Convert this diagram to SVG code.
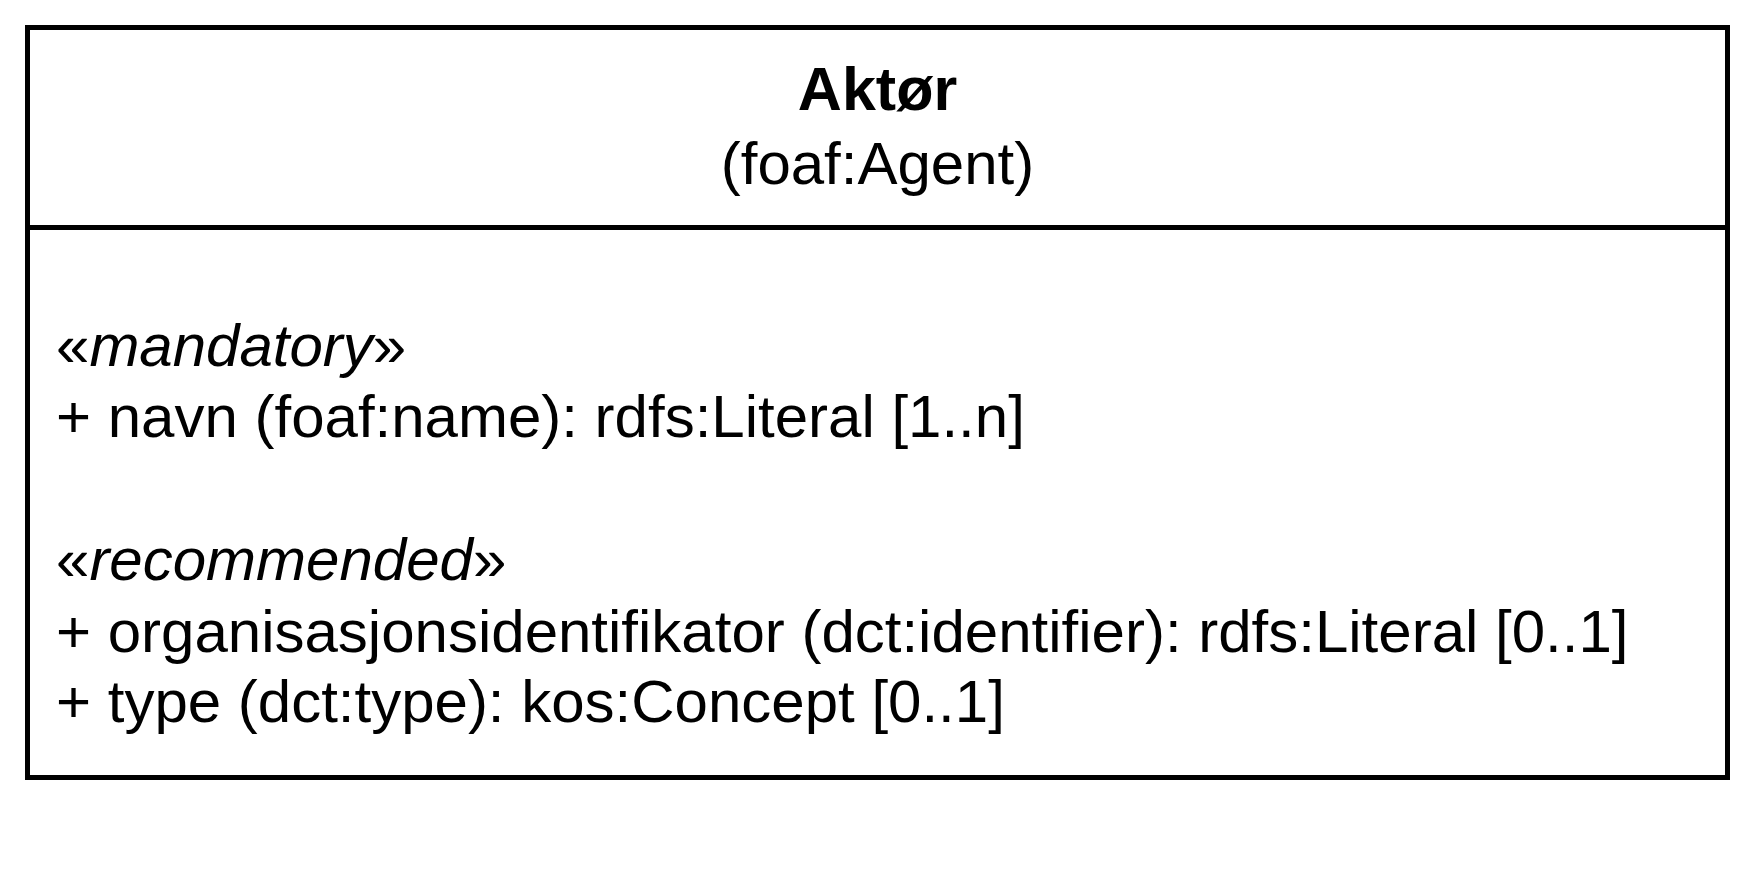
<svg xmlns="http://www.w3.org/2000/svg" width="1755" height="870" viewBox="0 0 1755 870">
  <style>
    .box { fill: #ffffff; stroke: #000000; stroke-width: 5; }
    .t { font-family: "Liberation Sans", Arial, sans-serif; font-size: 60px; fill: #000000; }
    .title { font-weight: bold; text-anchor: middle; font-size: 61px; }
    .center { text-anchor: middle; }
    .it { font-style: italic; }
  </style>
  <rect x="0" y="0" width="1755" height="870" fill="#ffffff"/>
  <g id="node-aktor">
    <rect class="box" x="27.5" y="27.5" width="1700" height="750"/>
    <line x1="27.5" y1="227.5" x2="1727.5" y2="227.5" stroke="#000000" stroke-width="5"/>
    <text class="t title" x="877.5" y="110">Aktør</text>
    <text class="t center" x="877.5" y="184">(foaf:Agent)</text>
    <text class="t" x="56" y="366">«<tspan class="it">mandatory</tspan>»</text>
    <text class="t" x="56" y="437">+ navn (foaf:name): rdfs:Literal [1..n]</text>
    <text class="t" x="56" y="580">«<tspan class="it">recommended</tspan>»</text>
    <text class="t" x="56" y="652">+ organisasjonsidentifikator (dct:identifier): rdfs:Literal [0..1]</text>
    <text class="t" x="56" y="722">+ type (dct:type): kos:Concept [0..1]</text>
  </g>
  <g id="connectors"></g>
</svg>
